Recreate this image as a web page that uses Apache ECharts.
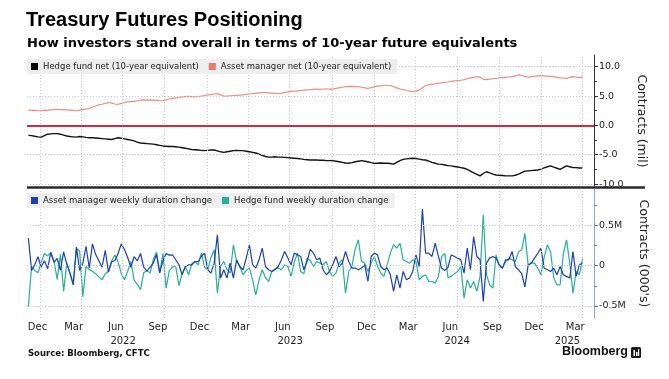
<!DOCTYPE html>
<html><head><meta charset="utf-8">
<script src="https://cdn.jsdelivr.net/npm/echarts@6/dist/echarts.min.js"></script>
<style>html,body{margin:0;padding:0;background:#fff}#c{width:669px;height:379px}</style>
</head><body><div id="c"></div>
<script>
// ---------- data ----------
const firstWeek = '2021-12-07';          // weekly (Tuesday) observations
const axisStart = '2021-12-04';
const axisEnd = '2025-04-26';
const quarterLines = ['2022-01-01','2022-04-01','2022-07-01','2022-10-01','2023-01-01','2023-04-01','2023-07-01','2023-10-01',
  '2024-01-01','2024-04-01','2024-07-01','2024-10-01','2025-01-01','2025-04-01'];
const monthLabelDates = ['2021-12-27','2022-03-16','2022-06-16','2022-09-16','2022-12-16','2023-03-16','2023-06-16','2023-09-16',
  '2023-12-16','2024-03-16','2024-06-16','2024-09-16','2024-12-16','2025-03-16'];
const monthLabels = ['Dec','Mar','Jun','Sep','Dec','Mar','Jun','Sep','Dec','Mar','Jun','Sep','Dec','Mar'];
const yearLabelDates = ['2022-07-02','2023-07-02','2024-07-01','2025-02-27'];
const yearLabels = ['2022','2023','2024','2025'];

const netMajorTicks = [-10,-5,0,5,10];
const netMinorTicks = [-7.5,-2.5,2.5,7.5];
const netGridLines = [-10,-5,5,10];
const durMajorTicks = [-500,0,500];
const durMinorTicks = [-250,250,750];
const durGridLines = [-500,0,500];

const hfNet = [
 -1.7,-1.75,-1.85,-1.95,-2.0,-1.75,-1.5,-1.45,-1.4,-1.4,
 -1.5,-1.65,-1.8,-1.9,-1.95,-2.0,-1.9,-1.95,-2.05,-2.1,
 -2.1,-2.15,-2.2,-2.25,-2.3,-2.35,-2.4,-2.25,-2.1,-2.2,
 -2.3,-2.4,-2.5,-2.65,-2.85,-3.0,-3.05,-3.1,-3.15,-3.2,
 -3.3,-3.4,-3.5,-3.55,-3.6,-3.6,-3.65,-3.7,-3.8,-3.9,
 -4.0,-4.1,-4.15,-4.2,-4.25,-4.3,-4.25,-4.2,-4.2,-4.35,
 -4.5,-4.6,-4.5,-4.4,-4.3,-4.25,-4.3,-4.3,-4.4,-4.5,
 -4.6,-4.7,-4.9,-5.1,-5.3,-5.4,-5.4,-5.35,-5.4,-5.4,
 -5.45,-5.5,-5.55,-5.6,-5.65,-5.7,-5.8,-5.85,-5.9,-5.9,
 -5.9,-5.95,-5.95,-6.0,-6.0,-6.0,-6.1,-6.2,-6.3,-6.4,
 -6.45,-6.35,-6.2,-6.1,-6.0,-6.1,-6.2,-6.35,-6.45,-6.45,
 -6.4,-6.45,-6.45,-6.5,-6.6,-6.3,-6.0,-5.8,-5.7,-5.65,
 -5.6,-5.65,-5.75,-5.85,-5.9,-6.1,-6.3,-6.45,-6.6,-6.65,
 -6.75,-6.85,-6.9,-7.0,-7.1,-7.2,-7.3,-7.5,-7.8,-8.1,
 -8.35,-8.6,-8.2,-7.9,-8.1,-8.3,-8.45,-8.5,-8.55,-8.6,
 -8.6,-8.6,-8.5,-8.3,-8.05,-7.8,-7.75,-7.7,-7.65,-7.6,
 -7.45,-7.25,-7.05,-6.9,-7.1,-7.3,-7.5,-7.2,-6.9,-7.05,
 -7.2,-7.2,-7.25,-7.25];
const amNet = [
 2.6,2.55,2.6,2.5,2.5,2.6,2.55,2.65,2.7,2.75,
 2.7,2.65,2.65,2.6,2.55,2.5,2.6,2.7,2.8,2.9,
 3.1,3.3,3.5,3.6,3.75,3.9,3.8,3.65,3.6,3.75,
 3.9,4.0,4.05,4.1,4.2,4.3,4.35,4.3,4.35,4.3,
 4.25,4.2,4.2,4.35,4.5,4.6,4.7,4.75,4.85,4.9,
 4.95,4.9,4.85,4.9,5.0,5.1,5.2,5.25,5.35,5.4,
 5.2,5.0,5.0,5.05,5.1,5.1,5.15,5.2,5.3,5.35,
 5.4,5.5,5.55,5.6,5.6,5.55,5.5,5.45,5.4,5.5,
 5.6,5.7,5.8,5.85,5.9,5.95,6.0,6.05,6.1,6.15,
 6.2,6.15,6.2,6.25,6.2,6.2,6.3,6.4,6.5,6.6,
 6.6,6.65,6.6,6.6,6.5,6.4,6.3,6.45,6.6,6.7,
 6.75,6.8,6.8,6.8,6.6,6.4,6.2,6.1,5.95,5.85,
 5.8,5.85,6.0,6.4,6.8,6.9,7.0,7.1,7.2,7.25,
 7.35,7.4,7.5,7.6,7.65,7.7,7.8,7.95,8.1,8.2,
 8.3,8.2,7.9,7.8,7.9,7.95,8.0,8.1,8.15,8.2,
 8.25,8.3,8.45,8.6,8.5,8.35,8.2,8.3,8.4,8.45,
 8.5,8.45,8.4,8.35,8.3,8.2,8.1,8.05,8.0,8.2,
 8.3,8.25,8.2,8.2];
// thousands of contracts
const amWeekly = [
 340,-60,10,110,-20,60,-40,160,40,90,
 -60,170,20,-100,-240,230,-60,30,240,-30,
 270,140,60,-20,190,-80,50,60,150,270,
 200,100,-20,110,60,150,-20,-70,-20,30,
 140,-90,60,150,130,134,72,10,-114,-11,
 10,10,51,51,113,155,-52,-93,31,382,
 -155,-52,-155,31,-155,72,-11,-52,93,258,
 10,-31,72,217,-11,-52,-73,-52,-11,72,
 175,93,10,155,134,113,-52,51,200,155,
 72,93,-52,-114,-73,10,113,-11,31,175,
 51,-31,-31,-52,-31,10,-197,113,155,134,
 -11,-52,-31,-114,-320,-114,-279,-73,-176,-155,
 -73,134,-11,700,155,155,113,279,113,-31,
 -60,-20,134,113,93,72,-93,217,-52,361,
 113,72,-445,31,93,113,93,10,-31,72,
 72,175,-11,-52,-100,-265,0,31,93,150,
 217,-31,-52,-73,-31,-114,-11,-114,-134,-155,
 175,-134,10,31];
const hfWeekly = [
 -510,-10,-60,-90,40,150,120,165,60,-170,
 140,-320,30,-90,-220,210,180,-385,-10,-50,
 -70,-100,-140,-176,-100,-70,60,130,50,-100,
 -176,-70,50,-176,-230,-300,-90,-60,-93,80,
 165,-90,150,-280,-60,-20,-11,-250,-100,-11,
 -114,20,51,10,155,-20,-52,100,196,-340,
 -11,51,-50,-93,258,51,-11,-114,-60,-31,
 -176,-362,-176,-52,-150,-197,-73,-40,-31,-52,
 10,-11,-134,40,155,-73,-100,93,60,-11,
 51,31,10,51,-73,-134,-93,31,72,-341,
 -73,-11,200,320,51,31,-73,31,113,-11,
 -93,-134,10,155,258,217,279,72,51,31,
 72,51,-176,-134,-114,-197,-197,-217,-134,113,
 150,-150,-134,-100,-73,-11,-403,-176,-279,-197,
 -320,-134,630,-114,-238,-279,134,-11,-31,51,
 93,72,51,170,196,400,10,31,31,-31,
 -114,100,258,175,-150,-238,-238,150,320,30,
 -341,-73,-114,80];

// ---------- helpers ----------
function t(s){const p=s.split('-').map(Number);return new Date(p[0],p[1]-1,p[2]).getTime();}
const weekMs = 7*24*3600*1000;
const t0 = t(firstWeek);
function pairs(arr){return arr.map((v,i)=>[t0+i*weekMs, v]);}
const monthMap = {}; monthLabelDates.forEach((d,i)=>monthMap[t(d)] = monthLabels[i]);
const yearMap = {}; yearLabelDates.forEach((d,i)=>yearMap[t(d)] = yearLabels[i]);

const FONT = 'DejaVu Sans';
const TXT = '#222';
const xMin = t(axisStart), xMax = t(axisEnd);
const qLines = quarterLines.map(t);
const gridLineStyle = {color:'#cacaca', type:[1,2], width:1};

function dateAxis(grid, extra){
  return Object.assign({type:'value', gridIndex:grid, min:xMin, max:xMax, scale:true, position:'bottom',
    axisLine:{show:false}, axisTick:{show:false},
    axisLabel:{show:false}, splitLine:{show:false}, minorSplitLine:{show:false}}, extra||{});
}
function gridMarks(yVals){
  return {silent:true, symbol:'none', label:{show:false}, emphasis:{disabled:true}, lineStyle:gridLineStyle,
    data: qLines.map(v=>({xAxis:v})).concat(yVals.map(v=>({yAxis:v})))};
}

const chart = echarts.init(document.getElementById('c'), null, {renderer:'canvas'});
chart.setOption({
  animation:false,
  backgroundColor:'#fff',
  title:[
    {text:'Treasury Futures Positioning', left:26, top:10, padding:0,
     textStyle:{fontFamily:'Liberation Sans', fontWeight:'bold', fontSize:20, color:'#000'}},
    {text:'How investors stand overall in terms of 10-year future equivalents', left:27, top:37, padding:0,
     textStyle:{fontFamily:FONT, fontWeight:'bold', fontSize:13, color:'#000'}}
  ],
  legend:[
    {data:['Hedge fund net (10-year equivalent)','Asset manager net (10-year equivalent)'],
     left:27, top:59, backgroundColor:'#eeeeee', padding:[3,6,3,4], itemWidth:7, itemHeight:7, itemGap:10,
     icon:'rect', selectedMode:false, textStyle:{fontFamily:FONT, fontSize:8.5, color:TXT}, z:20},
    {data:['Asset manager weekly duration change','Hedge fund weekly duration change'],
     left:27, top:193, backgroundColor:'#eeeeee', padding:[3,6,3,4], itemWidth:7, itemHeight:7, itemGap:10,
     icon:'rect', selectedMode:false, textStyle:{fontFamily:FONT, fontSize:8.5, color:TXT}, z:20}
  ],
  grid:[
    {left:27, right:75, top:55, height:132},
    {left:27, right:75, top:189, height:129}
  ],
  xAxis:[
    dateAxis(0),
    dateAxis(1),
    dateAxis(1, {axisLabel:{show:true, customValues:monthLabelDates.map(t), margin:4, fontFamily:FONT, fontSize:10, color:TXT,
        formatter:v=>monthMap[v]||''}}),
    dateAxis(1, {offset:14,
      axisLabel:{show:true, customValues:yearLabelDates.map(t), margin:4, fontFamily:FONT, fontSize:10, color:TXT,
        formatter:v=>yearMap[v]||''}})
  ],
  yAxis:[
    {type:'value', gridIndex:0, position:'right', min:-10.5, max:12,
     axisLine:{show:true, lineStyle:{color:'#333', width:1}},
     axisTick:{show:true, customValues:netMajorTicks, length:4, inside:false, lineStyle:{color:'#333'}},
     axisLabel:{customValues:netMajorTicks, margin:5, fontFamily:FONT, fontSize:9.5, color:TXT, formatter:v=>v.toFixed(1)},
     splitLine:{show:false},
     name:'Contracts (mil)', nameLocation:'middle', nameRotate:-90, nameGap:41,
     nameTextStyle:{fontFamily:FONT, fontSize:12.5, color:TXT}},
    {type:'value', gridIndex:0, position:'right', min:-10.5, max:12,
     axisLine:{show:false}, axisLabel:{show:false}, splitLine:{show:false},
     axisTick:{show:true, customValues:netMinorTicks, length:3, lineStyle:{color:'#333'}}},
    {type:'value', gridIndex:1, position:'right', min:-650, max:950,
     axisLine:{show:true, lineStyle:{color:'#8fa7d6', width:1}},
     axisTick:{show:true, customValues:durMajorTicks, length:4, lineStyle:{color:'#5b79b8'}},
     axisLabel:{customValues:durMajorTicks, margin:5, fontFamily:FONT, fontSize:9.5, color:TXT,
       formatter:v=> v===0 ? '0' : (v/1000)+'M'},
     splitLine:{show:false},
     name:"Contracts (000's)", nameLocation:'middle', nameRotate:-90, nameGap:36,
     nameTextStyle:{fontFamily:FONT, fontSize:12.5, color:TXT}},
    {type:'value', gridIndex:1, position:'right', min:-650, max:950,
     axisLine:{show:false}, axisLabel:{show:false}, splitLine:{show:false},
     axisTick:{show:true, customValues:durMinorTicks, length:3, lineStyle:{color:'#5b79b8'}}}
  ],
  series:[
    {name:'topGrid', type:'line', xAxisIndex:0, yAxisIndex:0, data:[], z:1, markLine:gridMarks(netGridLines)},
    {name:'bottomGrid', type:'line', xAxisIndex:1, yAxisIndex:2, data:[], z:1, markLine:gridMarks(durGridLines)},
    {name:'Hedge fund net (10-year equivalent)', type:'line', xAxisIndex:0, yAxisIndex:0,
     data:pairs(hfNet), showSymbol:false, color:'#000', lineStyle:{width:1.4, color:'#111'}, z:3},
    {name:'Asset manager net (10-year equivalent)', type:'line', xAxisIndex:0, yAxisIndex:0,
     data:pairs(amNet), showSymbol:false, color:'#f0766d', lineStyle:{width:1.2, color:'#f08c85'}, z:3,
     markLine:{silent:true, symbol:'none', label:{show:false},
       lineStyle:{color:'#d6293b', width:2, type:'solid'}, data:[{yAxis:0}]}},
    {name:'Asset manager weekly duration change', type:'line', xAxisIndex:1, yAxisIndex:2,
     data:pairs(amWeekly), showSymbol:false, color:'#1b3fb5', lineStyle:{width:1.2}, z:4},
    {name:'Hedge fund weekly duration change', type:'line', xAxisIndex:1, yAxisIndex:2,
     data:pairs(hfWeekly), showSymbol:false, color:'#26b095', lineStyle:{width:1.2}, z:3}
  ],
  graphic:[
    {type:'line', shape:{x1:27, y1:187.5, x2:645, y2:187.5}, style:{stroke:'#2a2a2a', lineWidth:2.5}, z:10},
    {type:'text', left:28, top:349, style:{text:'Source: Bloomberg, CFTC', font:'bold 8.5px "DejaVu Sans"', fill:'#111'}},
    {type:'text', right:41, top:345, style:{text:'Bloomberg', font:'bold 12.5px "Liberation Sans"', fill:'#111'}},
    {type:'group', right:28, top:347, children:[
      {type:'rect', shape:{x:0,y:0,width:10,height:11,r:1.5}, style:{fill:'#1a1a1a'}},
      {type:'rect', shape:{x:2.5,y:3,width:1.5,height:6}, style:{fill:'#fff'}},
      {type:'rect', shape:{x:5,y:5,width:1.5,height:4}, style:{fill:'#fff'}},
      {type:'rect', shape:{x:7,y:2,width:1.2,height:7}, style:{fill:'#fff'}}
    ]}
  ]
});
</script>
</body></html>
